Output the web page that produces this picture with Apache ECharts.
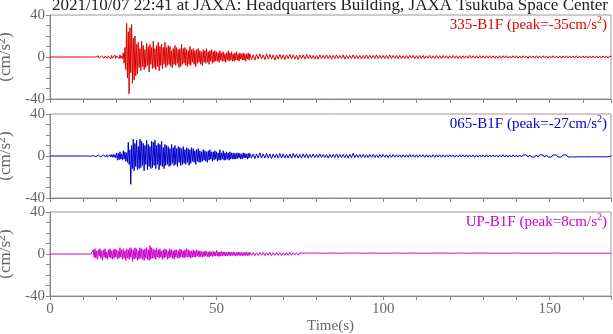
<!DOCTYPE html>
<html>
<head>
<meta charset="utf-8">
<script src="https://cdn.jsdelivr.net/npm/echarts@6/dist/echarts.min.js"></script>
<style>
html, body { margin: 0; padding: 0; background: #fff; }
#main { width: 613px; height: 334px; }
</style>
</head>
<body>
<div id="main"></div>
<script>
// traces: the early part (10-60 s) every 0.25 s,
// the coda (60-168.5 s) every 0.5 s. Before 10 s the record is at rest.
var earlyStart = 10, earlyStep = 0.25;
var lateStart = 60, lateStep = 0.5;
var tMax = 168.4;

// 335-B1F (cm/s2)
var acc335Early = [
  0,0,0,0,0,0,0,0,0,0,0,0,0,0,0,0,
  0.5,-0.8,1.2,-1,0.8,-1.5,1,-0.6,1.4,-1.2,0.8,-1,1.6,-1.3,1,-0.8,
  1.2,-1.8,1.5,-1,0.7,-1.2,1.8,-1.4,1,-0.9,1.3,-1.6,2,-1.2,0.9,-1.5,
  4,-6,9,-12,
  32,-20,24,-35,28,-15,31,-25,18,-22,20,-18,
  12,-16,14,-10,8,-13,15,-9,11,-12,7,-10,13,-8,10,-14,12,-7,
  9,-11,15,-10,8,-12,11,-9,14,-13,10,-8,12,-11,9,-7,14,-10,
  9,-8,11,-7,10,-9,6,-10,8,-7,11,-8,9,-6,7,-10,8,-9,12,-7,
  8,-6,9,-8,7,-9,6,-7,10,-8,7,-5,8,-7,6,-9,7,-6,8,-5,
  6,-7,5,-8,7,-5,6,-6,8,-5,5,-7,6,-4,7,-6,5,-5,6,-4,
  5,-4,4,-5,6,-3,4,-4,5,-4,3,-5,4,-3,6,-4,4,-3,5,-4,
  3,-4,4,-3,5,-3,3,-4,4,-2,3,-3,4,-3,3,-4,3,-2,4,-3
];
var acc335Late = [
  3,-2.5,2,-3,2.5,-2,3,-2,2,-2.5,3,-2,2.5,-2,2,-3,2,-2,2.5,-2,
  2,-2.5,2,-1.5,2.5,-2,2,-2,1.5,-2.5,2,-1.5,2,-2,2.5,-1.5,2,-2,1.5,-2,
  1.5,-2,2,-1.5,1.5,-1.5,2,-1.5,1.5,-2,1.5,-1.5,2,-1.5,1.5,-1.5,2,-2,1.5,-1.5,
  1.5,-1.5,2,-1.5,1.5,-1.5,1.5,-2,1.5,-1.5,2,-1.5,1.5,-1.5,1.5,-1.5,2,-1.5,1.5,-1.5,
  1.5,-1.5,1.5,-1.5,2,-1.5,1.5,-1.2,1.5,-1.5,1.5,-1.5,1.2,-1.5,1.5,-1.5,1.5,-1.2,1.5,-1.5,
  1.2,-1.5,1.5,-1.2,1.5,-1.5,1.2,-1.2,1.5,-1.5,1.2,-1.5,1.5,-1.2,1.2,-1.5,1.5,-1.2,1.2,-1.2,
  1.2,-1.2,1.5,-1.2,1.2,-1.2,1.2,-1.5,1.2,-1.2,1.2,-1.2,1.5,-1.2,1.2,-1.2,1.2,-1.2,1.2,-1.2,
  1.2,-1.2,1.2,-1,1.2,-1.2,1.2,-1.2,1,-1.2,1.2,-1.2,1.2,-1,1.2,-1.2,1,-1.2,1.2,-1,
  1.2,-1.2,1,-1.2,1.2,-1,1,-1.2,1.2,-1,1,-1.2,1.2,-1,1,-1,1.2,-1,1,-1.2,
  1,-1,1.2,-1,1,-1,1,-1.2,1,-1,1.2,-1,1,-1,1,-1,1.2,-1,1,-1,
  1,-1,1,-1,1,-1,1,-1,1,-1,1,-1,1,-1,1,-1,1,0
];

// 065-B1F (cm/s2)
var acc065Early = [
  0,0,0,0,0,0,0,0,
  0.2,-0.3,0.4,-0.3,0.5,-0.4,0.5,-0.6,0.6,-0.5,0.8,-0.6,0.7,-0.9,0.8,-0.7,
  1,-0.9,1.1,-0.8,1.2,-1,0.9,-1.3,1.2,-1,1.4,-1.1,1.5,-1.3,1.2,-1.6,
  3,-4,2.5,-3.5,4,-3,2,-4,5,-3,4,-5,3,-6,
  13,-8,6,-27,10,-12,
  16,-14,12,-10,15,-13,9,-12,16,-11,14,-9,12,-14,10,-8,15,-13,11,-10,
  9,-12,14,-11,13,-9,15,-12,10,-8,12,-13,11,-9,14,-10,8,-12,11,-9,
  10,-8,9,-10,7,-9,11,-7,8,-9,10,-8,7,-10,9,-6,8,-9,7,-8,
  9,-7,6,-8,8,-6,7,-9,6,-7,8,-5,7,-6,5,-8,6,-5,7,-6,
  5,-6,4,-5,6,-4,5,-5,4,-6,5,-4,6,-3,4,-5,4,-4,5,-3,
  4,-5,3,-4,6,-4,3,-3,5,-4,3,-4,4,-3,3,-4,4,-3,3,-3,
  3,-3,2.5,-3,3,-2.5,3,-2,2.5,-3,2,-2.5,3,-2,2.5,-2,2,-3,2.5,-2
];
var acc065Late = [
  2.5,-2,2,-2.5,2,-2,3,-2,2,-2,2.5,-2,2,-2.5,2,-1.5,2,-2,2.5,-2,
  2,-2,1.5,-2,2,-2,2.5,-1.5,2,-2,1.5,-2,2,-1.5,2,-2,1.5,-1.5,2,-1.5,
  1.5,-1.5,2,-1.5,1.5,-1.5,1.5,-2,1.5,-1.5,1.5,-1.5,2,-1.5,1.5,-1.5,1.5,-1.5,1.5,-2,
  1.5,-1.5,2.5,-1.5,1.5,-1.5,1.5,-1.5,1.5,-1.5,1.2,-1.5,1.5,-1.2,1.5,-1.5,1.2,-1.5,1.5,-1.2,
  1.5,-1.2,1.2,-1.5,1.2,-1.2,1.5,-1.2,1.2,-1.2,1.2,-1.5,1.2,-1.2,1.2,-1.2,1.5,-1.2,1.2,-1.2,
  1.2,-1.2,1.2,-1,1.2,-1.2,1.2,-1.2,1,-1.2,1.2,-1.2,1.2,-1,1.2,-1.2,1,-1.2,1.2,-1,
  1.2,-1,1,-1.2,1,-1,1.2,-1,1,-1,1.2,-1,1,-1,1,-1.2,1,-1,1,-1,
  1,-1,1.2,-1,1,-1,1,-1,1,-1,1,-1,1.2,-1,1,-1,1,-1,1,-1,
  1,-1,1,-1,1,-0.8,1,-1,1,-1,0.8,-1,1,-1,1,-0.8,1,-1,1,-1,
  0.8,-1,1,-0.8,1,-1,0.8,-1,1,-0.8,1,-1,0.8,-0.8,1,-1,0.8,-0.8,1,-0.8,
  1,-0.8,0.8,-0.8,1,-0.8,0.8,-0.8,1,-0.8,0.8,-0.8,0.8,-0.8,1,-0.8,0.8,0
];

// UP-B1F (cm/s2)
var accUPEarly = [
  0,0,0,0,0,0,0,0,0,0,0,0,
  4,-3,5,-4,3,-5,4,-2,5,-4,3,-6,4,-3,5,-4,2,-5,4,-3,
  5,-4,3,-5,4,-4,5,-3,4,-5,3,-4,6,-3,4,-5,5,-4,3,-6,
  5,-4,4,-5,6,-3,5,-7,4,-5,6,-4,5,-6,3,-5,6,-4,5,-5,
  4,-6,5,-4,6,-5,4,-6,
  8,-5,6,-4,
  5,-4,4,-5,6,-3,4,-4,5,-3,3,-5,4,-4,5,-3,4,-5,3,-4,
  5,-3,4,-4,3,-5,4,-3,4,-4,3,-4,5,-3,4,-3,3,-4,4,-3,
  5,-3,4,-3,3,-4,3,-3,4,-3,3,-3,4,-2,3,-3,
  3,-2.5,2.5,-3,2,-2.5,3,-2,2.5,-2.5,2,-3,2.5,-2,2,-2.5,2.5,-2,2,-2,
  3.5,-2,2,-2.5,2,-2,2.5,-2,2,-1.5,2,-2,1.5,-2,2,-1.5,2,-2,1.5,-1.5,
  2,-1.5,1.5,-2,1.5,-1.5,2,-1.5,1.5,-1.5,1.5,-2,1.5,-1.5,1.5,-1.5,2,-1.5,1.5,-1.5
];
var accUPLate = [
  1.5,-1.2,1.5,-1.5,1.2,-1.5,1.5,-1.2,1.5,-1.5,1.2,-1.2,1.5,-1.5,1.2,-1.2,1.5,-1.2,1.2,-1.5,
  1.2,-1.2,1.2,-1.2,1.5,-1.2,1.2,-1,1.2,-1.2,
  1,-0.8,0.8,-1,0.8,-0.8,1,-0.8,0.8,-0.8,1,-0.8,0.8,-1,0.8,-0.8,0.8,-0.8,1,-0.8,
  0.8,-0.8,0.8,-1,0.8,-0.8,0.8,-0.8,1,-0.8,0.8,-0.8,0.8,-0.8,1,-0.8,0.8,-0.8,0.8,-0.8,
  0.8,-0.8,1,-0.8,0.8,-0.8,0.8,-0.8,0.8,-1,0.8,-0.8,0.8,-0.8,0.8,-0.8,1,-0.8,0.8,-0.8,
  0.8,-0.8,0.8,-0.8,0.8,-0.8,1,-0.8,0.8,-0.8,0.8,-0.8,0.8,-0.8,0.8,-1,0.8,-0.8,0.8,-0.8,
  0.8,-0.8,0.8,-0.8,1,-0.8,0.8,-0.8,0.8,-0.8,0.8,-0.8,0.8,-0.8,0.8,-0.8,1,-0.8,0.8,-0.8,
  0.8,-0.8,0.8,-0.8,0.8,-0.8,0.8,-0.8,1,-0.8,0.8,-0.8,0.8,-0.8,0.8,-0.8,0.8,-0.8,0.8,-1,
  0.8,-0.8,0.8,-0.8,0.8,-0.8,0.8,-0.8,0.8,-0.8,1,-0.8,0.8,-0.8,0.8,-0.8,0.8,-0.8,0.8,-0.8,
  0.8,-0.8,0.8,-0.8,0.8,-0.8,0.8,-0.8,0.8,-0.8,0.8,-0.8,1,-0.8,0.8,-0.8,0.8,-0.8,0.8,-0.8,
  0.8,-0.8,0.8,-0.8,0.8,-0.8,0.8,-0.8,0.8,-0.8,0.8,-0.8,0.8,-0.8,0.8,-0.8,0.8,-0.8,0.8,-0.8,
  0.8,-0.8,0.8,-0.8,0.8,-0.8,0.8,0
];

var traceNames = ['335-B1F', '065-B1F', 'UP-B1F'];
var tracePeaks = [-35, -27, 8];
var traceColors = ['#dd0000', '#0000cc', '#cc00cc'];
var earlyParts = [acc335Early, acc065Early, accUPEarly];
var lateParts = [acc335Late, acc065Late, accUPLate];

var xLabelTicks = [0, 50, 100, 150];
var yLabelTicks = [-40, 0, 40];

var serif = "'Liberation Serif', 'Times New Roman', serif";
var axisGray = '#888';
var labelGray = '#666';
var panelTops = [15, 114, 212];

function buildTrace(early, late) {
    var out = [[0, 0]];   // at rest from the start of the record
    for (var i = 0; i < early.length; i++) out.push([earlyStart + i * earlyStep, early[i]]);
    for (var j = 0; j < late.length; j++) out.push([lateStart + j * lateStep, late[j]]);
    return out;
}

// "cm/s" with a raised 2
function unitRich(color, size) {
    return {
        n: { fontSize: size, fontFamily: serif, color: color, fill: color, lineHeight: 18, verticalAlign: 'bottom' },
        sup: { fontSize: Math.round(size * 0.68), fontFamily: serif, color: color, fill: color, lineHeight: 9, verticalAlign: 'top' }
    };
}

var grids = [], xAxes = [], yAxes = [], series = [], graphics = [];

for (var k = 0; k < 3; k++) {
    grids.push({
        left: 50, right: 2, top: panelTops[k], height: 84,
        outerBoundsMode: 'none', containLabel: false,
        show: true, borderColor: '#999', borderWidth: 1
    });
    xAxes.push({
        type: 'value', gridIndex: k, min: 0, max: tMax, interval: 10,
        axisLine: { onZero: false, lineStyle: { color: axisGray } },
        axisTick: { length: 4, lineStyle: { color: axisGray } },
        splitLine: { show: false },
        axisLabel: {
            show: k === 2, margin: 6, color: labelGray,
            fontFamily: serif, fontSize: 15,
            formatter: function (v) { return xLabelTicks.indexOf(v) >= 0 ? String(v) : ''; }
        },
        name: k === 2 ? 'Time(s)' : '',
        nameLocation: 'middle', nameGap: 23,
        nameTextStyle: { color: labelGray, fontFamily: serif, fontSize: 15 }
    });
    yAxes.push({
        type: 'value', gridIndex: k, min: -40, max: 40, interval: 10,
        axisLine: { lineStyle: { color: axisGray } },
        axisTick: { length: 4, lineStyle: { color: axisGray } },
        splitLine: { show: false },
        axisLabel: {
            margin: 5, color: labelGray, fontFamily: serif, fontSize: 15,
            formatter: function (v) { return yLabelTicks.indexOf(v) >= 0 ? String(v) : ''; }
        },
        name: '{n|(cm/s}{sup|2}{n|)}',
        nameLocation: 'middle', nameRotate: 90, nameGap: 29,
        nameTextStyle: { color: labelGray, fontFamily: serif, fontSize: 17, rich: unitRich(labelGray, 17) }
    });
    series.push({
        type: 'line', xAxisIndex: k, yAxisIndex: k,
        data: buildTrace(earlyParts[k], lateParts[k]),
        showSymbol: false, symbol: 'none',
        lineStyle: { color: traceColors[k], width: 1 },
        silent: true
    });
    graphics.push({
        type: 'text', right: 6, top: panelTops[k],
        style: {
            text: '{n|' + traceNames[k] + ' (peak=' + tracePeaks[k] + 'cm/s}{sup|2}{n|)}',
            rich: unitRich(traceColors[k], 15)
        }
    });
}

graphics.push({
    type: 'text', x: 330, y: 6,
    style: {
        text: '2021/10/07 22:41 at JAXA: Headquarters Building, JAXA Tsukuba Space Center',
        fill: '#222', font: '17px ' + serif, align: 'center', verticalAlign: 'middle'
    }
});

var myChart = echarts.init(document.getElementById('main'));
myChart.setOption({
    animation: false,
    backgroundColor: '#fff',
    grid: grids,
    xAxis: xAxes,
    yAxis: yAxes,
    series: series,
    graphic: graphics
});
</script>
</body>
</html>
